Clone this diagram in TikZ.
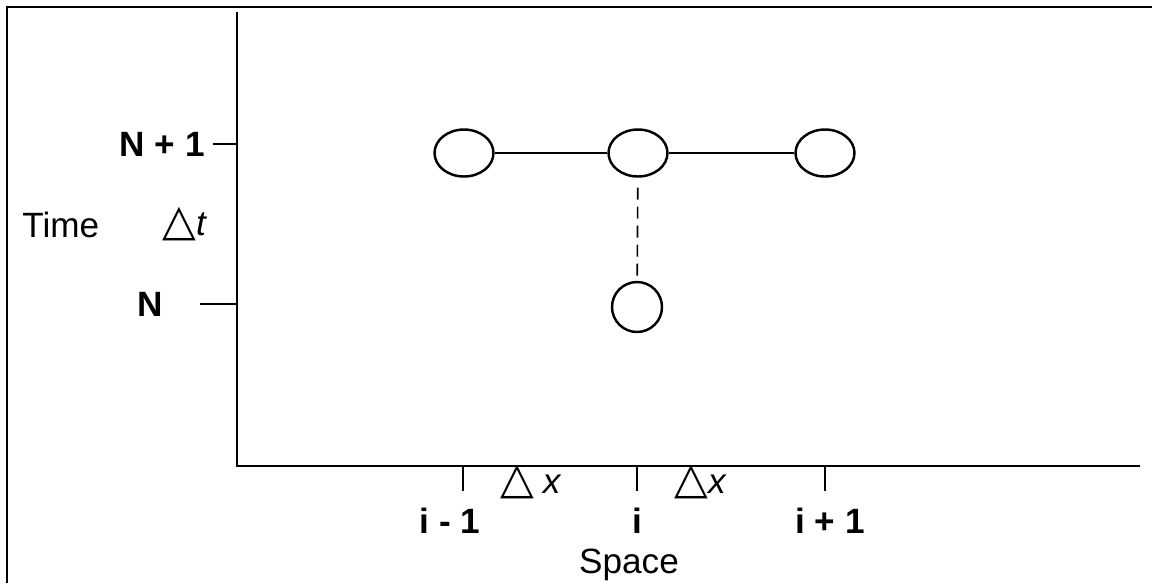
\documentclass[tikz,border=0pt]{standalone}
\usepackage{fontspec}
\setmainfont{Liberation Sans}
\newfontfamily\symfont{DejaVu Sans}
\usetikzlibrary{shapes.geometric, positioning}
\newcommand{\dtri}{{\symfont\fontsize{25}{25}\selectfont △}}
\tikzset{
  %% grid point at new time level
  gpoint/.style={
    ellipse, draw=black, line width=1.4pt,
    minimum width=1.18cm, minimum height=0.94cm, inner sep=0pt
  },
  %% grid point at old time level
  opoint/.style={
    circle, draw=black, line width=1.4pt,
    minimum size=1cm, inner sep=0pt
  },
  %% axes and ticks
  axline/.style={draw=black, line width=1.6pt},
  tk/.style={draw=black, line width=1.1pt},
  %% labels
  lbl/.style={font=\fontsize{20}{24}\selectfont\bfseries, inner sep=0pt},
  txt/.style={font=\fontsize{20}{24}\selectfont, inner sep=0pt},
}
\begin{document}
\begin{tikzpicture}[x=0.02cm, y=-0.02cm]
  \useasboundingbox (0,0) rectangle (1152,583);

  %% Frame
  \draw[line width=1.6pt] (7,583) -- (7,7) -- (1152,7);

  %% Axes
  \coordinate (orig) at (237,466);
  \coordinate (ytop) at (237,12);
  \coordinate (xend) at (1140,466);
  \draw[axline] (ytop) -- (orig) -- (xend);

  %% Time levels
  \draw[tk] (213,144) -- (237,144);
  \draw[tk] (200,304) -- (237,304);
  \node[lbl, anchor=east] (tnew) at (205,144) {N + 1};
  \node[lbl] (told) at (150,304) {N};
  \node[txt, anchor=base west] (tlab) at (22,237) {Time};
  \node[txt, anchor=base west] (dt) at (162,235) {\dtri\textit{t}};

  %% Space levels
  \foreach \xx in {463,637,825}
    \draw[tk] (\xx,467) -- (\xx,491);
  \node[lbl, anchor=base] (xm) at (450,533) {i - 1};
  \node[lbl, anchor=base] (xc) at (637,533) {i};
  \node[lbl, anchor=base] (xp) at (830,533) {i + 1};
  \node[txt, anchor=base] (slab) at (629,573) {Space};
  \node[txt, anchor=base west] (dxa) at (500,493) {\dtri\hspace{5pt}\textit{x}};
  \node[txt, anchor=base west] (dxb) at (674,493) {\dtri\textit{x}};

  %% Grid points
  \node[gpoint] (pl) at (464,153) {};
  \node[gpoint] (pc) at (638,153) {};
  \node[gpoint] (pr) at (825,153) {};
  \node[opoint] (pn) at (637,307) {};

  %% Connections
  \draw[line width=1.2pt] (pl) -- (pc);
  \draw[line width=1.2pt] (pc) -- (pr);
  \draw[line width=0.9pt, dash pattern=on 0.24cm off 0.14cm,
        shorten <=0.2cm] (pc) -- (pn);

\end{tikzpicture}
\end{document}
